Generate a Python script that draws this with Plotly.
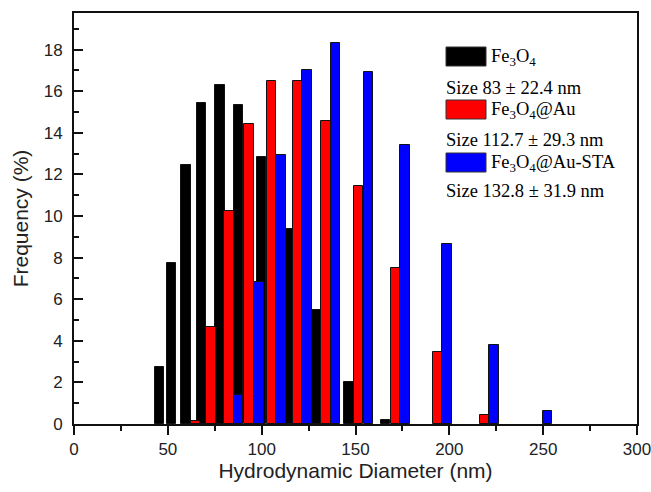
import plotly.graph_objects as go

# ---- data ----
fe3o4_x = [45.6, 52.1, 59.6, 68.0, 77.8, 87.7, 99.9, 114.9, 129.3, 146.5, 166.1]
fe3o4_y = [2.72, 7.74, 12.46, 15.41, 16.3, 15.33, 12.86, 9.38, 5.49, 2.02, 0.2]

feau_x = [64.7, 73.0, 82.5, 93.2, 105.3, 119.3, 134.3, 151.7, 171.2, 193.6, 218.6]
feau_y = [0.16, 4.68, 10.23, 14.43, 16.5, 16.47, 14.59, 11.45, 7.49, 3.44, 0.41]

feausta_x = [87.7, 98.5, 110.4, 124.2, 139.4, 156.8, 176.3, 198.7, 223.9, 252.2]
feausta_y = [1.41, 6.82, 12.94, 17.03, 18.31, 16.91, 13.4, 8.65, 3.81, 0.64]

series_names = ["Fe<sub>3</sub>O<sub>4</sub>", "Fe<sub>3</sub>O<sub>4</sub>@Au", "Fe<sub>3</sub>O<sub>4</sub>@Au-STA"]
size_labels = ["Size 83 ± 22.4 nm", "Size 112.7 ± 29.3 nm", "Size 132.8 ± 31.9 nm"]
colors = ["#000000", "#ff0000", "#0000ff"]

x_ticks = [0, 50, 100, 150, 200, 250, 300]
y_ticks = [0, 2, 4, 6, 8, 10, 12, 14, 16, 18]

BAR_W = 5.0

fig = go.Figure()
for xs, ys, c, n in zip([fe3o4_x, feau_x, feausta_x], [fe3o4_y, feau_y, feausta_y], colors, series_names):
    fig.add_trace(go.Bar(
        x=xs, y=ys, width=BAR_W, name=n,
        marker=dict(color=c, line=dict(color="#111111", width=1)),
        showlegend=False,
    ))

# ---- manual legend (paper coordinates) ----
L, T = 74, 13
W, H = 563, 411
def px(x):
    return (x - L) / W
def py(y):
    return (T + H - y) / H

sw_top = [47, 100, 153]
sw_h = 19
size_y = [88, 140, 191]
shapes = []
annotations = []
for i in range(3):
    shapes.append(dict(type="rect", xref="paper", yref="paper",
                       x0=px(446), x1=px(486), y0=py(sw_top[i] + sw_h), y1=py(sw_top[i]),
                       fillcolor=colors[i], line=dict(color="#333333", width=1)))
    annotations.append(dict(xref="paper", yref="paper", x=px(489), y=py(sw_top[i] + sw_h / 2 + 1),
                            text=series_names[i], showarrow=False, xanchor="left", yanchor="middle",
                            font=dict(family="Liberation Serif, Times New Roman, serif", size=18.5, color="#000")))
    annotations.append(dict(xref="paper", yref="paper", x=px(444), y=py(size_y[i]),
                            text=size_labels[i], showarrow=False, xanchor="left", yanchor="middle",
                            font=dict(family="Liberation Serif, Times New Roman, serif", size=18.5, color="#000")))

axis_font = dict(family="Liberation Sans, Arial, sans-serif", size=17, color="#222222")
title_font = dict(family="Liberation Sans, Arial, sans-serif", size=21, color="#222222")

fig.update_layout(
    width=651, height=492,
    margin=dict(l=L, r=651 - L - W, t=T, b=492 - T - H),
    paper_bgcolor="white", plot_bgcolor="white",
    barmode="overlay", bargap=0,
    shapes=shapes, annotations=annotations,
    xaxis=dict(range=[0, 300], tickvals=x_ticks, ticktext=[str(v) for v in x_ticks],
               ticks="outside", ticklen=9, tickwidth=2, tickcolor="#111",
               minor=dict(dtick=25, tick0=0, ticks="outside", ticklen=5, tickwidth=2, tickcolor="#111"),
               showline=True, linewidth=2, linecolor="#111", mirror=True, automargin=False,
               ticklabeloverflow="allow",
               showgrid=False, zeroline=False, tickfont=axis_font,
               title=dict(text="Hydrodynamic Diameter (nm)", font=title_font, standoff=4)),
    yaxis=dict(range=[0, 19.76], tickvals=y_ticks, ticktext=[str(v) for v in y_ticks],
               ticks="inside", ticklen=9, tickwidth=2, tickcolor="#111",
               minor=dict(dtick=1, tick0=0, ticks="inside", ticklen=5, tickwidth=2, tickcolor="#111"),
               showline=True, linewidth=2, linecolor="#111", mirror=True, automargin=False,
               showgrid=False, zeroline=False, tickfont=axis_font, ticklabelstandoff=6,
               title=dict(text="Frequency (%)", font=title_font, standoff=9)),
)

fig.write_html("out.html")
